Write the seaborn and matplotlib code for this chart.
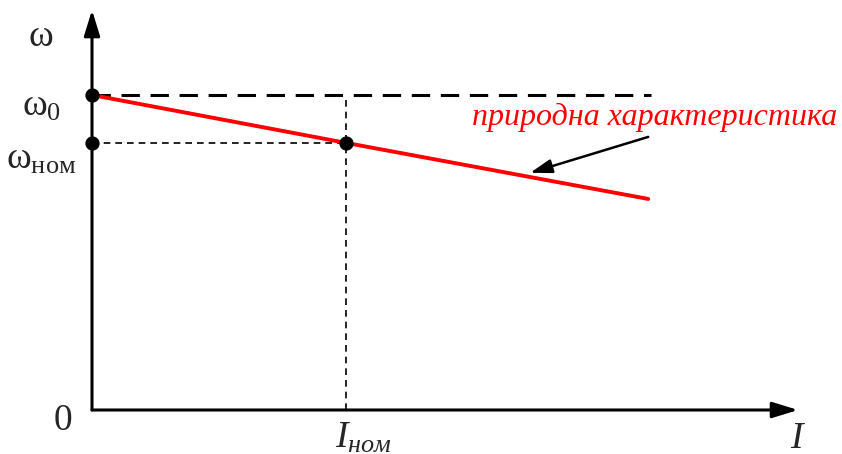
import matplotlib
matplotlib.use("Agg")
import matplotlib.pyplot as plt
import seaborn as sns
import pandas as pd

sns.set_theme(style="white")
plt.rcParams["font.family"] = ["Liberation Serif", "DejaVu Serif"]
plt.rcParams["mathtext.fontset"] = "custom"
plt.rcParams["mathtext.rm"] = "Liberation Serif"
plt.rcParams["mathtext.it"] = "Liberation Serif:italic"

# Natural characteristic: current (relative to I_nom) vs angular speed (relative to omega_0)
current = [0.0, 1.0, 2.19]
speed = [1.0, 0.848, 0.67]
omega_0 = 1.0
omega_nom = 0.848
i_nom = 1.0
marked_current = [0.0, 0.0, i_nom]
marked_speed = [omega_0, omega_nom, omega_nom]

curve = pd.DataFrame({"I": current, "omega": speed})
dots = pd.DataFrame({"I": marked_current, "omega": marked_speed})

fig = plt.figure(figsize=(8.42, 4.54), dpi=100)
ax = fig.add_axes([0, 0, 1, 1])
ax.set_xlim(-0.3622, 2.9528)
ax.set_ylim(-0.1397, 1.3016)
ax.axis("off")

# reference lines
ax.plot([0, 2.2], [omega_0, omega_0], color="black", lw=2.2, dashes=(6, 3.5))
ax.plot([0, i_nom], [omega_nom, omega_nom], color="black", lw=1.2, dashes=(4, 3))
ax.plot([i_nom, i_nom], [0, omega_0], color="black", lw=1.2, dashes=(4, 3))

# characteristic
sns.lineplot(data=curve, x="I", y="omega", ax=ax, color="red", lw=2.8,
             legend=False, zorder=3)
sns.scatterplot(data=dots, x="I", y="omega", ax=ax, color="black", s=90,
                edgecolor="black", zorder=5, legend=False)

# coordinate axes with arrowheads
arrow = dict(arrowstyle="-|>,head_length=1.3,head_width=0.4", color="black",
             lw=2.2, shrinkA=0, shrinkB=0)
ax.annotate("", xy=(0, 1.27), xytext=(0, 0), arrowprops=arrow)
ax.annotate("", xy=(2.78, 0), xytext=(0, 0), arrowprops=arrow)

# labels
fs = 27
ax.text(-0.2, 1.185, "ω", fontsize=fs, ha="center", va="center")
ax.text(-0.2, 0.965, r"ω$_0$", fontsize=fs, ha="center", va="center")
ax.text(-0.2, 0.795, r"ω$_{\mathrm{ном}}$", fontsize=fs, ha="center", va="center")
ax.text(-0.115, -0.035, "0", fontsize=fs, ha="center", va="center")
ax.text(i_nom + 0.07, -0.09, r"$I_{ном}$", fontsize=fs, ha="center", va="center")
ax.text(2.775, -0.09, "I", fontsize=fs, style="italic", ha="center", va="center")

ax.text(2.935, 0.93, "природна характеристика", fontsize=23, style="italic",
        color="red", ha="right", va="center")
ax.annotate("", xy=(1.725, 0.753), xytext=(2.19, 0.867),
            arrowprops=dict(arrowstyle="-|>,head_length=1.1,head_width=0.35",
                            color="black", lw=1.8, shrinkA=0, shrinkB=0))

fig.savefig("out.png", dpi=100)
